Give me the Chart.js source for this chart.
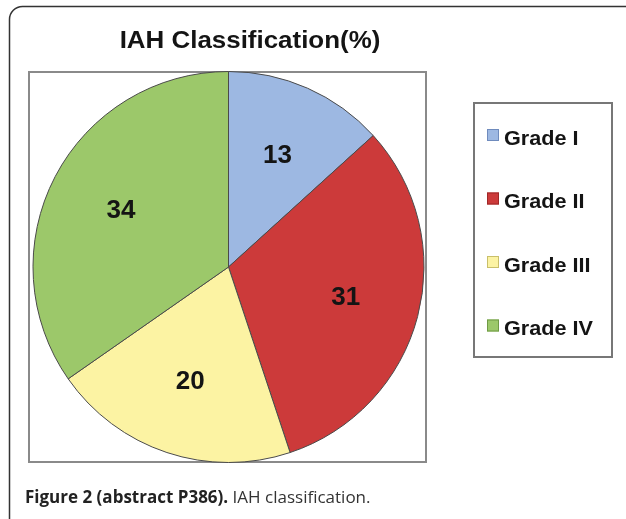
<!DOCTYPE html>
<html>
<head>
<meta charset="utf-8">
<script src="https://cdn.jsdelivr.net/npm/chart.js@4/dist/chart.umd.min.js"></script>
<style>
  html, body { margin: 0; padding: 0; background: #fff; }
  #wrap { width: 626px; height: 519px; position: relative; }
</style>
</head>
<body>
<div id="wrap"><canvas id="iahChart" width="626" height="519"></canvas></div>
<script>
// IAH grades and their share (%)
const gradeLabels = ['Grade I', 'Grade II', 'Grade III', 'Grade IV'];
const gradePercent = [13, 31, 20, 34];
const gradeColors = ['#9db8e2', '#cc3a3a', '#fcf3a3', '#9cc86a'];
const gradeBorders = ['#6f8bbd', '#9e2727', '#c9bf6a', '#6f9a45'];

const chartTitle = 'IAH Classification(%)';
const captionBold = 'Figure 2 (abstract P386).';
const captionText = ' IAH classification.';

const ARIAL_BOLD = '"Liberation Sans", Arial, sans-serif';

// bold text, optionally a little wider than the font's own widths
function boldText(ctx, text, x, y, size, align, stretch) {
  stretch = stretch || 1;
  ctx.save();
  ctx.font = 'bold ' + size + 'px ' + ARIAL_BOLD;
  ctx.textBaseline = 'middle';
  const w = ctx.measureText(text).width * stretch;
  let left = x;
  if (align === 'center') left = x - w / 2;
  ctx.translate(left, y);
  ctx.scale(stretch, 1);
  ctx.textAlign = 'left';
  ctx.fillStyle = '#141414';
  ctx.fillText(text, 0, 0);
  ctx.restore();
}

const framePlugin = {
  id: 'frame',
  beforeDraw(chart) {
    const ctx = chart.ctx;
    ctx.save();
    // rounded figure frame
    ctx.strokeStyle = '#333';
    ctx.lineWidth = 1.5;
    ctx.beginPath();
    const x = 9.5, y = 6.5, r = 13;
    ctx.moveTo(640, y);
    ctx.lineTo(x + r, y);
    ctx.arcTo(x, y, x, y + r, r);
    ctx.lineTo(x, 530);
    ctx.stroke();
    // plot area box
    ctx.strokeStyle = '#8a8a8a';
    ctx.lineWidth = 2;
    ctx.strokeRect(29, 72, 397, 390);
    ctx.restore();
  },
  afterDraw(chart) {
    const ctx = chart.ctx;
    boldText(ctx, chartTitle, 250, 41, 24, 'center', 1.08);

    // value labels inside the slices
    const meta = chart.getDatasetMeta(0);
    meta.data.forEach((arc, i) => {
      const mid = (arc.startAngle + arc.endAngle) / 2;
      const rr = arc.outerRadius * 0.62;
      boldText(ctx, String(gradePercent[i]), arc.x + Math.cos(mid) * rr, arc.y + Math.sin(mid) * rr, 26, 'center');
    });

    // legend box
    ctx.save();
    ctx.strokeStyle = '#777';
    ctx.lineWidth = 2;
    ctx.strokeRect(474, 103, 138, 254);
    ctx.restore();
    const ds = chart.data.datasets[0];
    chart.data.labels.forEach((lab, i) => {
      const cy = 138 + i * 63.5;
      ctx.save();
      ctx.fillStyle = ds.backgroundColor[i];
      ctx.strokeStyle = gradeBorders[i];
      ctx.lineWidth = 1;
      ctx.fillRect(487, cy - 9, 12, 12);
      ctx.strokeRect(487.5, cy - 8.5, 11, 11);
      ctx.restore();
      boldText(ctx, lab, 504, cy + 1, 21, 'left', 1.03);
    });

    // caption
    ctx.save();
    ctx.textBaseline = 'alphabetic';
    ctx.fillStyle = '#222';
    ctx.font = 'bold 17px "Open Sans", "Noto Sans", sans-serif';
    ctx.fillText(captionBold, 25, 503);
    const bw = ctx.measureText(captionBold).width;
    ctx.font = '17px "Open Sans", "Noto Sans", sans-serif';
    ctx.fillStyle = '#333';
    ctx.fillText(captionText, 25 + bw, 503);
    ctx.restore();
  }
};

new Chart(document.getElementById('iahChart'), {
  type: 'pie',
  data: {
    labels: gradeLabels,
    datasets: [{
      data: gradePercent,
      backgroundColor: gradeColors,
      borderColor: '#4a4a4a',
      borderWidth: 1
    }]
  },
  options: {
    responsive: false,
    animation: false,
    layout: {
      padding: { left: 31, top: 71, right: 200, bottom: 56 }
    },
    plugins: {
      legend: { display: false },
      title: { display: false },
      tooltip: { enabled: false }
    }
  },
  plugins: [framePlugin]
});
</script>
</body>
</html>
